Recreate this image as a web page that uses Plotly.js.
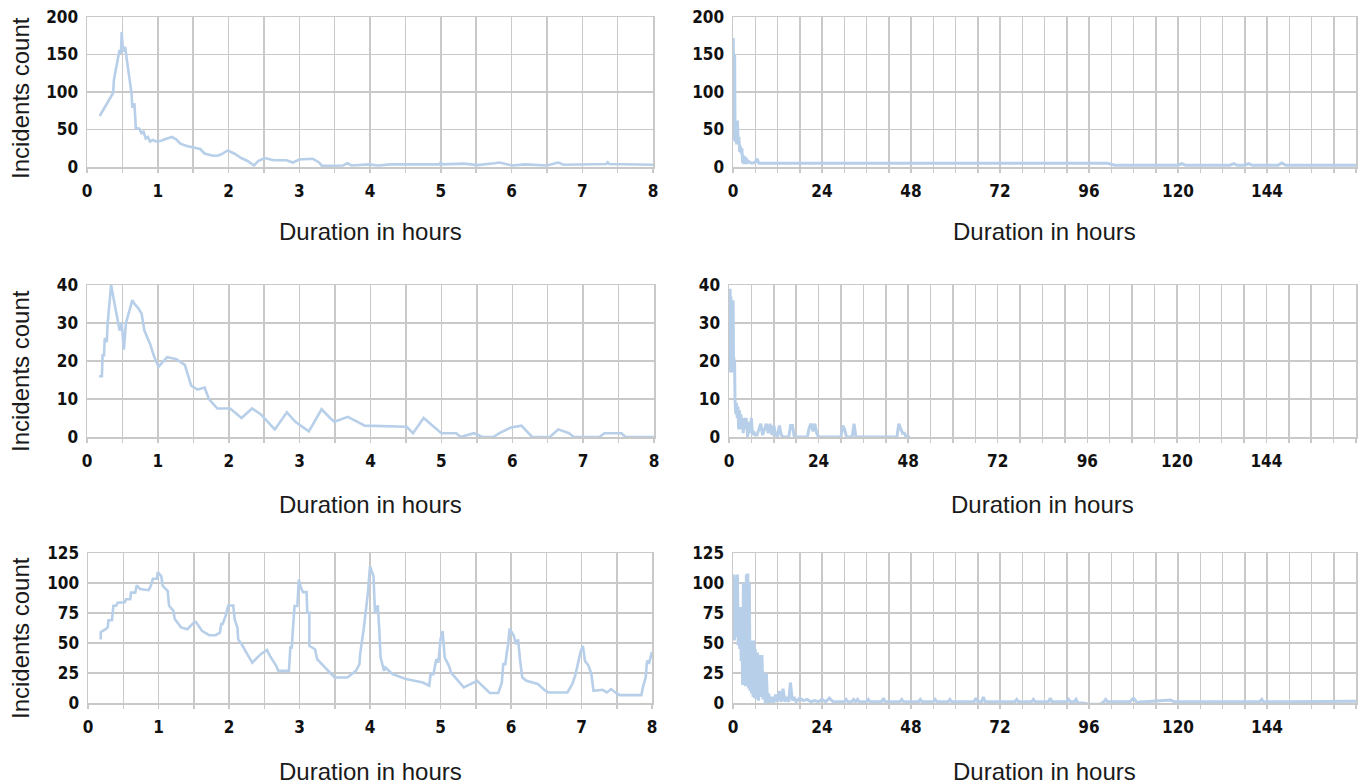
<!DOCTYPE html>
<html>
<head>
<meta charset="utf-8">
<script src="https://cdn.plot.ly/plotly-3.0.1.min.js"></script>
<style>
  html, body { margin: 0; padding: 0; background: #ffffff; }
  #chart { width: 1363px; height: 784px; }
</style>
</head>
<body>
<div id="chart"></div>
<script>
// ---------- DATA ----------
// Panel A: top-left, 0-8 hours
const hoursA = [0.18,0.37,0.38,0.44,0.46,0.48,0.49,0.51,0.54,0.56,0.58,0.61,0.63,0.64,0.67,0.69,0.74,0.77,0.80,0.83,0.86,0.89,0.93,0.98,1.05,1.10,1.20,1.26,1.32,1.41,1.53,1.60,1.66,1.78,1.84,1.90,1.99,2.08,2.18,2.27,2.36,2.42,2.51,2.64,2.82,2.91,3.00,3.19,3.28,3.32,3.62,3.68,3.74,3.99,4.11,4.29,4.60,4.98,5.00,5.02,5.33,5.52,5.76,5.83,6.01,6.19,6.50,6.66,6.74,7.34,7.36,7.38,8.00];
const countA = [68,99,116,143,156,151,180,154,160,145,131,107,98,79,85,52,51,45,47,38,40,34,36,34,35,37,40,37,31,28,26,24,18,15,15,17,22,18,12,8,2,8,12,9,9,6,10,11,6,1.5,2,5,2,3.5,2,3.5,3.5,3.5,6,3.5,4.5,2.5,5,6,2,3.5,2,6,3,4,6,4,3];

// Panel B: top-right, 0-168 hours
const hoursB = [0.05,0.15,0.25,0.35,0.45,0.55,0.65,0.75,0.85,1.0,1.2,1.4,1.6,1.8,2.0,2.2,2.4,2.6,2.8,3.0,3.2,3.4,3.6,3.8,4.0,5.0,6.0,6.5,7.0,10,30,60,90,101,103,120,121,122,134,135,136,138,139,140,147,148,149,168];
const countB = [172,40,170,36,150,34,110,35,60,30,62,30,40,20,28,18,25,5,15,4,14,5,12,4,8,5,6,11,5,5,5,5,5,5,2.5,2.5,4.5,2.5,2.5,4.5,2.5,2.5,4.5,2.5,2.5,5.5,2.5,2.5];

// Panel C: middle-left, 0-8 hours
const hoursC = [0.17,0.21,0.22,0.24,0.25,0.28,0.29,0.31,0.34,0.37,0.40,0.43,0.46,0.49,0.52,0.55,0.58,0.64,0.67,0.72,0.77,0.81,0.89,0.95,1.01,1.13,1.26,1.38,1.47,1.56,1.66,1.72,1.84,2.02,2.18,2.33,2.45,2.58,2.65,2.82,2.94,3.13,3.31,3.43,3.49,3.68,3.92,4.51,4.60,4.75,4.90,5.00,5.21,5.27,5.46,5.58,5.73,5.82,5.98,6.13,6.28,6.53,6.65,6.80,6.87,7.23,7.30,7.54,7.60,8.00];
const countC = [16,16,21.5,21.5,26,25,29.5,33.5,40,37,34,31,28,30,23,30,32,36,35,34,32.5,28,24.5,21,18.5,21,20.5,19,13.5,12.5,13,10,7.5,7.5,5,7.5,6,3.5,2,6.5,4,1.5,7.3,5,4,5.3,3,2.7,1,5,2.5,1,1,0,1,0,0,1,2.5,3,0,0,2,1,0,0,1,1,0,0];

// Panel D: middle-right, 0-168 hours
const hoursD = [0.05,0.1,0.15,0.2,0.3,0.4,0.5,0.6,0.7,0.8,0.9,1.0,1.1,1.2,1.3,1.4,1.5,1.6,1.8,2.0,2.2,2.4,2.6,2.8,3.0,3.2,3.4,3.6,3.8,4.0,4.3,4.6,5.0,5.3,5.6,6.0,6.3,6.6,7.0,7.5,8.0,8.5,9.0,10,10.5,11,11.5,12,12.5,13,13.5,14,14.5,16,16.5,17,17.5,21,21.5,22,22.5,23,23.5,24,30,30.5,31,31.5,33,33.5,34,45,45.5,46,46.5,47,47.5,48.5];
const countD = [39,17,38,18,39,17,37,20,36,17,36,18,36,20,21,17,20,10,6,9,5,8,2,7,3,6,2,5,1,5,2,5,0,4,1,5,0.5,1.5,0.5,0.5,2,3.5,0.5,3.5,1,3.5,0.5,3,0.5,0.3,3,0.5,0,0,3,3,0,0,2.5,3.5,1.5,3.5,1,0,0,3,2,0,0,3.5,0,0,3.5,2,1,1,0,0];

// Panel E: bottom-left, 0-8 hours
const hoursE = [0.18,0.18,0.25,0.28,0.29,0.34,0.36,0.40,0.42,0.52,0.54,0.60,0.61,0.67,0.69,0.74,0.86,0.89,0.92,0.98,0.99,1.04,1.06,1.13,1.15,1.21,1.23,1.32,1.41,1.50,1.53,1.62,1.72,1.81,1.87,1.89,1.91,1.95,1.99,2.06,2.08,2.12,2.13,2.18,2.24,2.33,2.45,2.54,2.58,2.67,2.70,2.85,2.87,2.89,2.91,2.93,2.97,2.99,3.02,3.05,3.10,3.11,3.14,3.14,3.22,3.25,3.43,3.50,3.68,3.80,3.85,3.86,3.91,3.94,3.97,4.00,4.05,4.07,4.11,4.13,4.15,4.20,4.22,4.32,4.51,4.75,4.84,4.86,4.90,4.94,4.97,5.00,5.03,5.06,5.12,5.15,5.33,5.52,5.64,5.70,5.82,5.87,5.89,5.92,5.94,5.96,5.98,6.04,6.07,6.10,6.13,6.16,6.22,6.38,6.47,6.53,6.80,6.87,6.91,6.94,6.99,7.02,7.05,7.10,7.14,7.17,7.30,7.36,7.42,7.48,7.54,7.85,7.87,7.91,7.93,7.96,8.00];
const countE = [53,59,61.5,63,69,69,81,81,83.5,84,86.5,86.5,92,92,98,95,94,97.5,103.5,103.5,109,105.6,97.5,93.5,81,77,70,63,61.5,67,67.5,60,56.5,56.5,58.6,65.8,65.8,72.4,81.3,81.3,69.7,62.8,53,49,42.6,33.7,40.7,44.2,39.3,31,26.8,26.8,46.2,46.2,64.2,80.8,80.8,102.9,96,92.4,92.4,75.2,75.2,47.6,44.8,36.5,25.4,21.3,21.3,26.8,32.4,40.7,61.4,76.6,91.8,113.9,105.6,75.2,81.3,62.8,37.9,26.8,29.6,24.1,19.9,17.1,14.4,24.1,24.1,36.5,33.7,53.1,60,37.9,31,25.4,13,18.5,11.6,8.3,8.3,17.1,32.4,32.4,42,49,62,56,49,53,35,21.3,18.5,15.8,11,8.8,8.8,15.8,22.7,31,43.4,47.6,35.1,31,24.1,10.2,11,8.8,11.6,8.8,6.6,6.6,13,21.3,35.1,33.7,42.6];

// Panel F: bottom-right, 0-168 hours
const hoursF = [
  0.1,0.2,0.3,0.4,0.5,0.6,0.8,1.0,1.2,1.4,
  1.6,1.8,2.0,2.2,2.4,2.6,2.8,3.0,3.2,3.4,
  3.6,3.8,4.0,4.2,4.4,4.6,4.8,5.0,5.2,5.4,
  5.6,5.8,6.0,6.3,6.6,6.9,7.2,7.5,7.8,8.1,
  8.4,8.7,9.0,9.3,9.6,10,10.5,11,11.5,12,
  12.5,13,13.5,14,14.5,15,15.5,16,16.5,17,
  18,19,20,21,22,23,24,25,26,27,
  30,30.5,31,32,32.5,33,33.6,34,36,36.5,
  37,40,40.6,41,45,45.5,46,50,50.5,51,
  54,54.5,55,58,58.5,59,65,65.5,66,67,
  67.5,68,76,76.5,77,80.5,81,81.5,85,85.6,
  86,90,90.5,91,92,92.5,93,94.5,96,99,
  100,100.5,101,107,108,109,110,111,118,119,
  125,135,142,142.6,143,150,168];
const countF = [
  105,55,107,52,100,60,105,55,107,48,
  80,45,80,35,60,15,100,15,98,14,
  107,15,108,12,100,10,52,8,52,5,
  52,4,45,3,42,2,40,5,40,3,
  26,0,25,0,8,0,5,0,7,1,
  10,1,12,1,5,1,17,2,5,1,
  4,2,3,1,2,1,3,1,4,1,
  1,3,1,1,3,1,3,1,1,3,
  1,1,4,1,1,3,1,1,3,1,
  1,3,1,1,3,1,1,4,1,1,
  5,1,1,3,1,1,3,1,1,4,
  1,1,3,1,1,3,0,0,-1,-1,
  1,3,1,1,4,0,1,1,2.5,1,
  1,1.5,1,3,1,1,1.5];

// Tick labels
const hourTicks = [0,1,2,3,4,5,6,7,8];
const weekTicks = [0,24,48,72,96,120,144];
const countTicksA = [0,50,100,150,200];
const countTicksC = [0,10,20,30,40];
const countTicksE = [0,25,50,75,100,125];
const xTitle = "Duration in hours";
const yTitle = "Incidents count";

// ---------- LAYOUT ----------
const W = 1363, H = 784;
const lineColor = "#b8cfe9";
const gridColor = "#c9c9c9";
const tickFont = {family: "'Liberation Sans Narrow', 'Arial Narrow', 'DejaVu Sans Condensed', sans-serif", size: 17, color: "#111111", weight: 700};
const titleFont = {family: "'Liberation Sans', Arial, Helvetica, sans-serif", size: 24, color: "#1a1a1a"};

// plot boxes in pixels: [left, right, top, bottom]
const boxes = [
  [87, 653, 17, 167],
  [733, 1356, 17, 167],
  [87, 654, 285, 437],
  [729, 1356, 285, 437],
  [88, 652, 553, 703],
  [733, 1356, 553, 703]
];
const xTitleOffset = [64, 64, 67, 67, 68, 68];
const yTitleCenter = [98, 98, 371, 371, 638, 638];

function xdom(b){ return [b[0]/W, b[1]/W]; }
function ydom(b){ return [1 - b[3]/H, 1 - b[2]/H]; }

const series = [
  {x: hoursA, y: countA, w: 2.6},
  {x: hoursB, y: countB, w: 3},
  {x: hoursC, y: countC, w: 2.6},
  {x: hoursD, y: countD, w: 3},
  {x: hoursE, y: countE, w: 2.6},
  {x: hoursF, y: countF, w: 3}
];
const yTickSets = [countTicksA, countTicksA, countTicksC, countTicksC, countTicksE, countTicksE];

const traces = [];
const layout = {
  width: W, height: H,
  margin: {l: 0, r: 0, t: 0, b: 0},
  paper_bgcolor: "#ffffff",
  plot_bgcolor: "#ffffff",
  showlegend: false,
  annotations: []
};

series.forEach((s, i) => {
  const n = i + 1;
  const xa = n === 1 ? "xaxis" : "xaxis" + n;
  const ya = n === 1 ? "yaxis" : "yaxis" + n;
  traces.push({
    type: "scatter", mode: "lines",
    x: s.x, y: s.y,
    xaxis: "x" + (n === 1 ? "" : n), yaxis: "y" + (n === 1 ? "" : n),
    line: {color: lineColor, width: s.w, shape: "linear"},
    hoverinfo: "x+y"
  });
  const isLeft = (i % 2 === 0);
  const yt = yTickSets[i];
  const b = boxes[i];
  layout[xa] = {
    domain: xdom(b),
    anchor: "y" + (n === 1 ? "" : n),
    range: isLeft ? [0, 8] : [0, 168],
    tickmode: "array",
    tickvals: isLeft ? hourTicks : weekTicks,
    ticktext: (isLeft ? hourTicks : weekTicks).map(String),
    showgrid: true, gridcolor: gridColor, gridwidth: 1.5,
    minor: {dtick: isLeft ? 0.5 : 6, tick0: 0, showgrid: true, gridcolor: gridColor, gridwidth: 1.5, ticks: "outside", ticklen: 4, tickcolor: gridColor},
    ticks: "outside", ticklen: 4, tickcolor: gridColor, tickwidth: 1.5,
    showline: true, linecolor: gridColor, linewidth: 1.5, mirror: true,
    zeroline: false,
    tickfont: tickFont,
    ticklabelstandoff: 4,
    fixedrange: true
  };
  layout[ya] = {
    domain: ydom(b),
    anchor: "x" + (n === 1 ? "" : n),
    range: [yt[0], yt[yt.length - 1]],
    tickmode: "array",
    tickvals: yt,
    ticktext: yt.map(String),
    showgrid: true, gridcolor: gridColor, gridwidth: 1.5,
    showline: true, linecolor: gridColor, linewidth: 1.5, mirror: true,
    zeroline: false,
    ticks: "",
    tickfont: tickFont,
    ticklabelstandoff: 4,
    fixedrange: true
  };
  layout.annotations.push({
    text: xTitle, xref: "paper", yref: "paper",
    x: (b[0] + b[1]) / 2 / W, y: 1 - (b[3] + xTitleOffset[i]) / H,
    xanchor: "center", yanchor: "middle", showarrow: false,
    font: titleFont
  });
  if (isLeft) {
    layout.annotations.push({
      text: yTitle, xref: "paper", yref: "paper",
      x: 20 / W, y: 1 - yTitleCenter[i] / H,
      xanchor: "center", yanchor: "middle", showarrow: false,
      textangle: -90,
      font: titleFont
    });
  }
});

Plotly.newPlot("chart", traces, layout, {displayModeBar: false, staticPlot: true});
</script>
</body>
</html>
